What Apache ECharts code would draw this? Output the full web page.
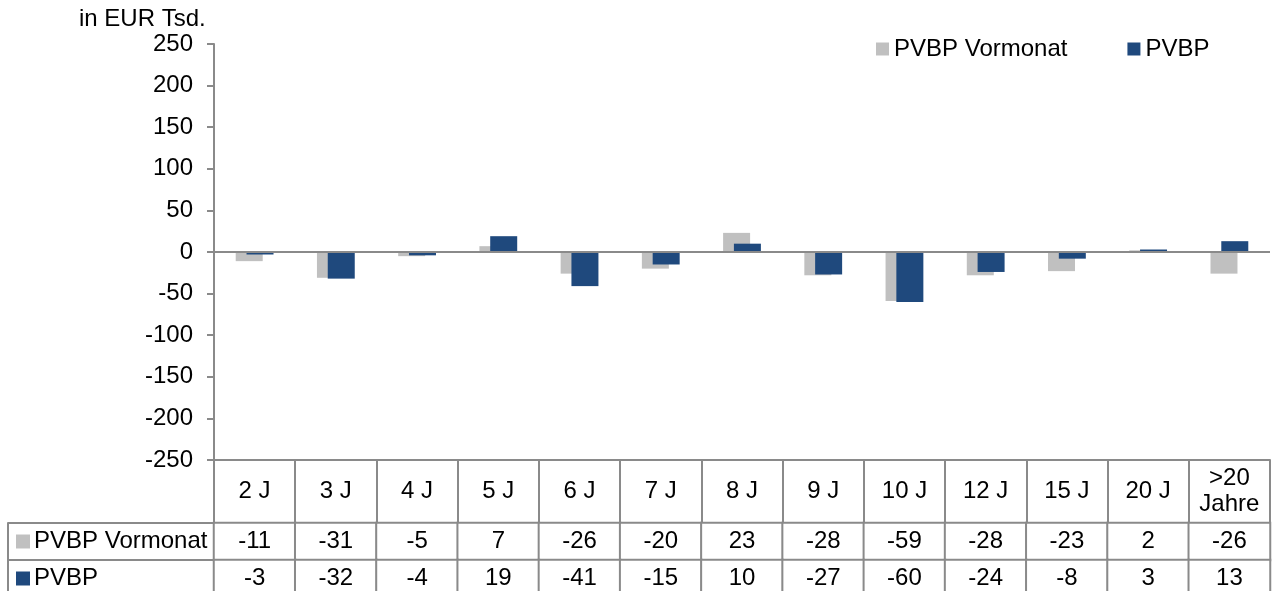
<!DOCTYPE html>
<html>
<head>
<meta charset="utf-8">
<script src="https://cdn.jsdelivr.net/npm/echarts@6/dist/echarts.min.js"></script>
<style>
  html, body { margin: 0; padding: 0; background: #fff; }
  #chart { width: 1274px; height: 591px; }
</style>
</head>
<body>
<div id="chart"></div>
<script>
const categories = ['2 J', '3 J', '4 J', '5 J', '6 J', '7 J', '8 J', '9 J', '10 J', '12 J', '15 J', '20 J', '>20\nJahre'];
const pvbpVormonat = [-11, -31, -5, 7, -26, -20, 23, -28, -59, -28, -23, 2, -26];
const pvbp = [-3, -32, -4, 19, -41, -15, 10, -27, -60, -24, -8, 3, 13];
const seriesNames = ['PVBP Vormonat', 'PVBP'];
const yTicks = { min: -250, max: 250, step: 50 };

const GRAY = '#c0c0c0';
const BLUE = '#1f497d';
const LINE = '#8a8a8a';
const FONT = "'Liberation Sans', Arial, sans-serif";
const FS = 24;

// table cells: [col, row, value]
const tableCells = [];
pvbpVormonat.forEach((v, i) => tableCells.push([i, 0, v]));
pvbp.forEach((v, i) => tableCells.push([i, 1, v]));

const chart = echarts.init(document.getElementById('chart'));

chart.setOption({
  animation: false,
  textStyle: { fontFamily: FONT, color: '#000' },
  title: {
    text: 'in EUR Tsd.',
    left: 79,
    top: 7,
    padding: 0,
    textStyle: { fontSize: FS, fontWeight: 'normal', color: '#000', fontFamily: FONT }
  },
  legend: {
    data: seriesNames,
    left: 876,
    top: 37,
    padding: 0,
    icon: 'rect',
    itemWidth: 13,
    itemHeight: 13,
    itemGap: 60,
    textStyle: { fontSize: FS, color: '#000', fontFamily: FONT }
  },
  grid: [
    { left: 214, right: 4, top: 44, height: 416, outerBoundsMode: 'none' },
    { left: 214, right: 4, top: 523, height: 74, outerBoundsMode: 'none' }
  ],
  xAxis: [
    {
      gridIndex: 0,
      type: 'category',
      data: categories,
      position: 'bottom',
      axisLine: { onZero: false, lineStyle: { color: LINE, width: 2 } },
      axisTick: { show: true, length: 63, interval: 0, lineStyle: { color: LINE, width: 2 } },
      axisLabel: {
        interval: 0, margin: 31, verticalAlign: 'middle',
        fontSize: FS, lineHeight: 26, color: '#000', fontFamily: FONT
      },
      splitLine: { show: false }
    },
    {
      gridIndex: 1,
      type: 'category',
      data: categories,
      axisLine: { show: false },
      axisTick: { show: false },
      axisLabel: { show: false },
      splitLine: { show: false }
    }
  ],
  yAxis: [
    {
      gridIndex: 0,
      type: 'value',
      min: yTicks.min,
      max: yTicks.max,
      interval: yTicks.step,
      axisLine: { show: true, lineStyle: { color: LINE, width: 2 } },
      axisTick: { show: true, length: 7, lineStyle: { color: LINE, width: 2 } },
      axisLabel: { margin: 21, fontSize: FS, color: '#000', fontFamily: FONT },
      splitLine: { show: false }
    },
    {
      gridIndex: 1,
      type: 'category',
      data: seriesNames,
      inverse: true,
      axisLine: { show: true, lineStyle: { color: LINE, width: 2 } },
      axisTick: { show: true, length: 206, lineStyle: { color: LINE, width: 2 } },
      axisLabel: {
        margin: 198,
        align: 'left',
        formatter: (v) => (v === seriesNames[0] ? '{g|}' : '{b|}') + '{t|' + v + '}',
        rich: {
          g: { backgroundColor: GRAY, width: 14, height: 14 },
          b: { backgroundColor: BLUE, width: 14, height: 14 },
          t: { fontSize: FS, color: '#000', fontFamily: FONT, padding: [0, 0, 0, 4] }
        }
      }
    },
    {
      gridIndex: 1,
      type: 'category',
      data: seriesNames,
      inverse: true,
      position: 'left',
      offset: 206,
      axisLine: { show: true, lineStyle: { color: LINE, width: 2 } },
      axisTick: { show: false },
      axisLabel: { show: false }
    }
  ],
  series: [
    {
      name: seriesNames[0],
      type: 'bar',
      xAxisIndex: 0,
      yAxisIndex: 0,
      data: pvbpVormonat,
      barWidth: 27,
      barGap: '-60%',
      itemStyle: { color: GRAY }
    },
    {
      name: seriesNames[1],
      type: 'bar',
      xAxisIndex: 0,
      yAxisIndex: 0,
      data: pvbp,
      barWidth: 27,
      itemStyle: { color: BLUE },
      markLine: {
        silent: true,
        symbol: 'none',
        label: { show: false },
        lineStyle: { color: LINE, width: 2, type: 'solid' },
        data: [{ yAxis: 0 }]
      }
    },
    {
      type: 'heatmap',
      xAxisIndex: 1,
      yAxisIndex: 1,
      data: tableCells,
      itemStyle: { color: '#fff', borderColor: LINE, borderWidth: 2 },
      label: {
        show: true,
        fontSize: FS,
        color: '#000',
        fontFamily: FONT,
        formatter: (p) => String(p.value[2])
      },
      emphasis: { disabled: true }
    }
  ]
});
</script>
</body>
</html>
